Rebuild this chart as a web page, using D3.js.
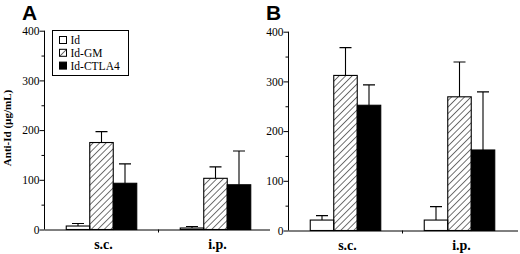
<!DOCTYPE html>
<html>
<head>
<meta charset="utf-8">
<script src="https://cdn.jsdelivr.net/npm/d3@7"></script>
<style>
  body { margin: 0; background: #fff; }
  svg { display: block; }
  .axis path, .axis line { stroke: #000; }
  .axis text { font-family: "Liberation Serif", serif; fill: #000; }
</style>
</head>
<body>
<svg id="chart" width="520" height="254"></svg>
<script>
const categories = ["s.c.", "i.p."];
const series = ["Id", "Id-GM", "Id-CTLA4"];
const yTicks = [0, 50, 100, 150, 200, 250, 300, 350, 400];

// panel A: means and upper error (SD) per category, in series order
const meanA_sc = [7, 175, 93];
const meanA_ip = [3, 103, 90];
const errA_sc = [5, 22, 39];
const errA_ip = [3, 23, 68];

// panel B
const meanB_sc = [21, 312, 252];
const meanB_ip = [21, 269, 162];
const errB_sc = [9, 56, 41];
const errB_ip = [27, 70, 117];

var svg = d3.select("#chart");

// hatch for Id-GM
var defs = svg.append("defs");
defs.append("pattern")
    .attr("id", "hatch")
    .attr("patternUnits", "userSpaceOnUse")
    .attr("width", 4.6)
    .attr("height", 4.6)
    .attr("patternTransform", "rotate(45)")
    .append("line")
    .attr("x1", 0).attr("y1", 0)
    .attr("x2", 0).attr("y2", 4.6)
    .attr("stroke", "#000")
    .attr("stroke-width", 1.1);

var fills = ["#fff", "url(#hatch)", "#000"];

function rows(means, errs) {
    return series.map(function(s, i) { return { s: s, v: means[i], e: errs[i] }; });
}

function drawPanel(opts) {
    var g = svg.append("g");

    var y = d3.scaleLinear().domain([0, 400]).range([opts.y0, opts.y400]);
    var x0 = d3.scaleBand().domain(categories).range([opts.left, opts.left + 228]);
    var groupW = 70.5;
    var x1 = d3.scaleBand().domain(series).range([0, groupW]);

    // y axis
    var yAxis = d3.axisLeft(y)
        .tickValues(yTicks)
        .tickFormat(function(d) { return d % 100 == 0 ? d : ""; })
        .tickSizeOuter(0);
    var ya = g.append("g").attr("class", "axis")
        .attr("transform", "translate(" + opts.left + ",0)")
        .call(yAxis);
    ya.selectAll(".tick line").attr("x2", function(d) { return d % 100 == 0 ? -5 : -3; });
    ya.selectAll(".tick text").attr("x", -5).style("font-size", "11.5px");
    ya.select(".domain").attr("d", "M0," + opts.y0 + "V" + opts.y400);

    // x axis (domain line + mid tick)
    var xAxis = d3.axisBottom(x0).tickSize(0).tickSizeOuter(0);
    var xa = g.append("g").attr("class", "axis")
        .attr("transform", "translate(0," + opts.y0 + ")")
        .call(xAxis);
    xa.select(".domain").attr("d", "M" + opts.left + ",0.5H" + opts.xEnd);
    xa.selectAll(".tick text")
        .attr("y", 19)
        .attr("dy", 0)
        .attr("dx", 2)
        .style("font-size", "14px")
        .style("font-weight", "bold");
    xa.append("line")
        .attr("x1", x0(categories[1])).attr("x2", x0(categories[1]))
        .attr("y1", 0).attr("y2", 3)
        .attr("stroke", "#000");

    // bars
    var data = [rows(opts.sc[0], opts.sc[1]), rows(opts.ip[0], opts.ip[1])];
    var groups = g.selectAll(".grp")
        .data(data)
        .enter()
        .append("g")
        .attr("class", "grp")
        .attr("transform", function(d, i) {
            return "translate(" + (x0(categories[i]) + (x0.bandwidth() - groupW) / 2) + ",0)";
        });

    // error bars (upper only)
    groups.selectAll(".err")
        .data(function(d) { return d; })
        .enter()
        .append("path")
        .attr("class", "err")
        .attr("fill", "none")
        .attr("stroke", "#000")
        .attr("stroke-width", 1.1)
        .attr("d", function(d) {
            var cx = x1(d.s) + x1.bandwidth() / 2;
            var top = y(d.v + d.e);
            return "M" + cx + "," + y(d.v) + "V" + top + "M" + (cx - 6) + "," + top + "H" + (cx + 6);
        });

    groups.selectAll("rect")
        .data(function(d) { return d; })
        .enter()
        .append("rect")
        .attr("x", function(d) { return x1(d.s); })
        .attr("y", function(d) { return y(d.v); })
        .attr("width", x1.bandwidth())
        .attr("height", function(d) { return opts.y0 - y(d.v); })
        .attr("fill", function(d, i) { return fills[i]; })
        .attr("stroke", "#000")
        .attr("stroke-width", 1.1);

    // panel letter
    svg.append("text")
        .attr("x", opts.letterX)
        .attr("y", 20)
        .style("font-family", "'Liberation Sans', Arial, sans-serif")
        .style("font-weight", "bold")
        .style("font-size", "21px")
        .text(opts.letter);
}

drawPanel({ letter: "A", letterX: 22, left: 44.5, xEnd: 270, y0: 229.5, y400: 30.7, sc: [meanA_sc, errA_sc], ip: [meanA_ip, errA_ip] });
drawPanel({ letter: "B", letterX: 266, left: 288.5, xEnd: 518, y0: 230.5, y400: 31.7, sc: [meanB_sc, errB_sc], ip: [meanB_ip, errB_ip] });

// y label
svg.append("text")
    .attr("transform", "translate(11,128) rotate(-90)")
    .attr("text-anchor", "middle")
    .style("font-family", "'Liberation Serif', serif")
    .style("font-weight", "bold")
    .style("font-size", "11px")
    .text("Anti-Id (\u00b5g/mL)");

// legend
var legend = svg.append("g").attr("transform", "translate(52.5,30.5)");
legend.append("rect")
    .attr("width", 76).attr("height", 45)
    .attr("fill", "#fff").attr("stroke", "#000");
var items = legend.selectAll(".item")
    .data(series)
    .enter()
    .append("g")
    .attr("class", "item")
    .attr("transform", function(d, i) { return "translate(7," + (6 + i * 12.8) + ")"; });
items.append("rect")
    .attr("width", 7).attr("height", 7)
    .attr("fill", function(d, i) { return fills[i]; })
    .attr("stroke", "#000");
items.append("text")
    .attr("x", 11)
    .attr("y", 7.5)
    .style("font-family", "'Liberation Serif', serif")
    .style("font-size", "11.5px")
    .text(function(d) { return d; });
</script>
</body>
</html>
